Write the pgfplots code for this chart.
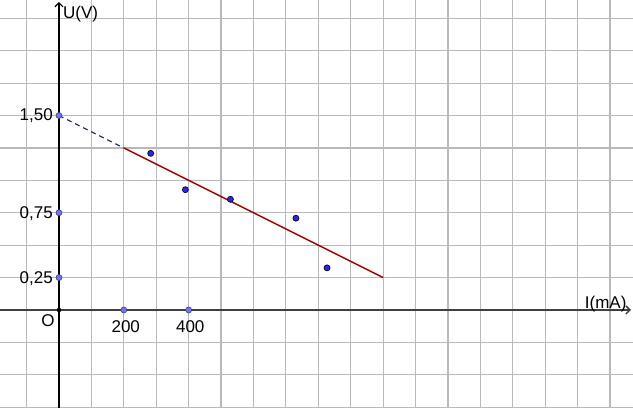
\documentclass[border=0pt]{standalone}
\usepackage{pgfplots}
\pgfplotsset{compat=1.18}
\usetikzlibrary{arrows.meta}
\usepackage{fontspec}
\setmainfont{Liberation Sans}
\definecolor{gridgray}{RGB}{185,185,185}
\definecolor{fitred}{RGB}{153,0,0}
\definecolor{dashblue}{RGB}{30,30,110}
\definecolor{ptblue}{RGB}{40,40,230}
\definecolor{ptedge}{RGB}{0,0,60}
\definecolor{axpt}{RGB}{115,115,250}
\definecolor{axptedge}{RGB}{60,60,140}
\begin{document}
\begin{tikzpicture}
\useasboundingbox (0,0) rectangle (633bp,408bp);
\begin{axis}[
  at={(0,0)}, anchor=south west,
  scale only axis, width=633bp, height=408bp,
  xmin=-182, xmax=1771, ymin=-0.756, ymax=2.391,
  enlargelimits=false,
  axis lines=middle,
  x axis line style={line width=1.5bp, black!75, -{Straight Barb[length=4bp,width=8bp]}, shorten >=2bp},
  y axis line style={line width=1.2bp, black, -{Straight Barb[length=4bp,width=8bp]}, shorten >=2bp},
  xtick={-100,0,...,1700}, ytick={-0.75,-0.5,...,2.25},
  xticklabels={}, yticklabels={},
  major tick length=0pt,
  grid=major,
  major grid style={gridgray, line width=1.2bp},
  clip=false,
  font=\fontsize{17bp}{20bp}\selectfont,
]
% dashed extrapolation
\addplot[dashblue, line width=1.1bp, dash pattern=on 5bp off 4bp] coordinates {(0,1.5) (200,1.25)};
% fitted line
\addplot[fitred, line width=1.5bp] coordinates {(200,1.25) (1000,0.25)};
% axis points
\addplot[only marks, mark=*, mark size=3bp, mark options={fill=axpt, draw=axptedge, line width=0.6bp}]
  coordinates {(0,1.5) (0,0.75) (0,0.25) (200,0) (400,0)};
% origin
\addplot[only marks, mark=*, mark size=2bp, mark options={fill=black, draw=black}] coordinates {(0,0)};
% measured points
\addplot[only marks, mark=*, mark size=3bp, mark options={fill=ptblue, draw=ptedge, line width=0.7bp}]
  coordinates {(283,1.208) (390,0.928) (529,0.854) (731,0.708) (827,0.325)};
% labels
\node[anchor=base east, inner sep=0] at (axis cs:-18.5,1.46) {1,50};
\node[anchor=base east, inner sep=0] at (axis cs:-18.5,0.702) {0,75};
\node[anchor=base east, inner sep=0] at (axis cs:-18.5,0.206) {0,25};
\node[anchor=base, inner sep=0] at (axis cs:206,-0.177) {200};
\node[anchor=base, inner sep=0] at (axis cs:405,-0.177) {400};
\node[anchor=base, inner sep=0] at (axis cs:-34,-0.131) {O};
\node[anchor=base west, inner sep=0] at (axis cs:12,2.25) {U(V)};
\node[anchor=base west, inner sep=0] at (axis cs:1622,0.012) {I(mA)};
\end{axis}
\end{tikzpicture}
\end{document}
